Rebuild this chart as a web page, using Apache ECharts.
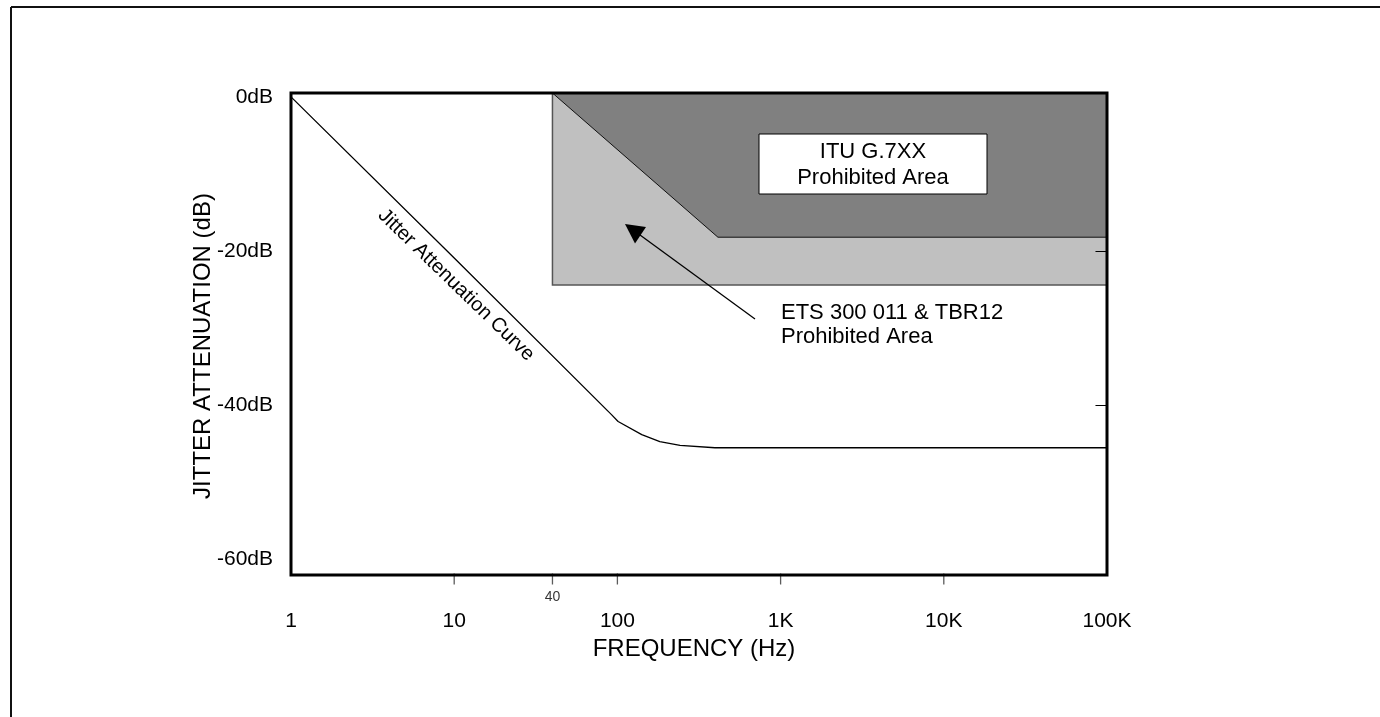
<!DOCTYPE html>
<html><head><meta charset="utf-8">
<script src="https://cdn.jsdelivr.net/npm/echarts@6/dist/echarts.min.js"></script>
<style>html,body{margin:0;padding:0;background:#fff}#c{width:1380px;height:717px}</style>
</head><body><div id="c"></div>
<script>
// ---- data ----
const X_MIN = 1, X_MAX = 100000;
const Y_MIN = -62, Y_MAX = 0.5;
const Y_LABELS = [0, -20, -40, -60];
const X_LABEL_EXP = [0, 1, 2, 3, 4, 5];
const X_LABEL_TEXT = ['1', '10', '100', '1K', '10K', '100K'];
const X_TICKS = [10, 40, 100, 1000, 10000];
const X_MINOR_LABEL = 40;
const RIGHT_TICKS = [-20, -40];
const RIGHT_TICK_FROM = 85000;
const CURVE_FREQ = [1, 10, 92, 101, 141, 182, 242, 396, 100000];
const CURVE_DB = [0, -20.9, -41.2, -42.1, -43.8, -44.7, -45.2, -45.5, -45.5];
const ETS_FREQ = [40, 100000, 100000, 40];
const ETS_DB = [Y_MAX, Y_MAX, -24.4, -24.4];
const ITU_FREQ = [40, 413, 100000, 100000];
const ITU_DB = [Y_MAX, -18.2, -18.2, Y_MAX];

const FONT = "'Liberation Sans', Arial, sans-serif";
const regions = [
  {f: ETS_FREQ, d: ETS_DB, fill: '#c0c0c0', stroke: '#555', lw: 1.5},
  {f: ITU_FREQ, d: ITU_DB, fill: '#808080', stroke: '#111', lw: 1}
];

const chart = echarts.init(document.getElementById('c'), null, {renderer: 'canvas'});
chart.setOption({
  backgroundColor: '#fff',
  animation: false,
  grid: {left: 291, right: 273, top: 93, bottom: 142, show: false},
  xAxis: {
    type: 'log', logBase: 10, min: X_MIN, max: X_MAX,
    name: 'FREQUENCY (Hz)', nameLocation: 'middle', nameGap: 61,
    nameTextStyle: {color: '#000', fontSize: 24, fontFamily: FONT, padding: [0, 10, 0, 0]},
    axisLine: {show: false}, axisTick: {show: false}, splitLine: {show: false},
    minorTick: {show: false},
    axisLabel: {
      color: '#000', fontSize: 21, fontFamily: FONT, margin: 36,
      formatter: v => {
        const e = Math.round(Math.log10(v));
        const i = X_LABEL_EXP.indexOf(e);
        return i >= 0 && Math.abs(Math.log10(v) - e) < 1e-6 ? X_LABEL_TEXT[i] : '';
      }
    }
  },
  yAxis: {
    type: 'value', min: Y_MIN, max: Y_MAX, splitNumber: 3,
    name: 'JITTER ATTENUATION (dB)', nameLocation: 'middle', nameGap: 76,
    nameMoveOverlap: false,
    nameTextStyle: {color: '#000', fontSize: 24, fontFamily: FONT, padding: [0, 24, 0, 0]},
    axisLine: {show: false}, axisTick: {show: false}, splitLine: {show: false},
    axisLabel: {
      color: '#000', fontSize: 21, fontFamily: FONT, margin: 18,
      formatter: v => {
        const r = Math.round(v);
        return Math.abs(v - r) < 1e-6 && Y_LABELS.includes(r) ? r + 'dB' : '';
      }
    }
  },
  series: [
    {
      type: 'custom', name: 'regions', z: 1, silent: true, clip: false,
      data: regions.map((r, i) => [i]),
      renderItem: (params, api) => {
        const r = regions[api.value(0)];
        const pts = r.f.map((f, k) => api.coord([f, r.d[k]]));
        return {type: 'polygon', shape: {points: pts},
          style: {fill: r.fill, stroke: r.stroke, lineWidth: r.lw}};
      }
    },
    {
      type: 'line', name: 'Jitter Attenuation Curve', z: 3, silent: true,
      showSymbol: false, symbol: 'none',
      lineStyle: {color: '#000', width: 1.3},
      data: CURVE_FREQ.map((f, i) => [f, CURVE_DB[i]]),
      markLine: {
        silent: true, symbol: ['none', 'none'], label: {show: false},
        lineStyle: {color: '#000', width: 1, type: 'solid'},
        data: RIGHT_TICKS.map(v => [{coord: [RIGHT_TICK_FROM, v]}, {coord: [X_MAX, v]}])
      }
    },
    {
      type: 'scatter', name: 'xticks', z: 4, silent: true, clip: false,
      symbol: 'rect', symbolSize: [1.3, 11], symbolOffset: [0, 4],
      itemStyle: {color: '#333'},
      data: X_TICKS.map(f => [f, Y_MIN]),
      label: {
        show: true, position: 'bottom', distance: 6, color: '#000',
        fontSize: 14, fontFamily: FONT,
        formatter: p => (p.value[0] === X_MINOR_LABEL ? String(X_MINOR_LABEL) : '')
      }
    }
  ],
  graphic: [
    {type: 'line', z: 100, shape: {x1: 11, y1: 7, x2: 1380, y2: 7}, style: {stroke: '#111', lineWidth: 2}},
    {type: 'line', z: 100, shape: {x1: 11, y1: 7, x2: 11, y2: 717}, style: {stroke: '#111', lineWidth: 2}},
    {type: 'rect', z: 100, shape: {x: 291, y: 93, width: 816, height: 482},
      style: {fill: 'none', stroke: '#000', lineWidth: 3}},
    {type: 'rect', z: 100, shape: {x: 759, y: 134, width: 228, height: 60},
      style: {fill: '#fff', stroke: '#000', lineWidth: 1}},
    {type: 'text', z: 101, x: 873, y: 165,
      style: {text: 'ITU G.7XX\nProhibited Area', fill: '#000', font: '22px ' + FONT,
        align: 'center', verticalAlign: 'middle', lineHeight: 26}},
    {type: 'text', z: 101, x: 781, y: 325,
      style: {text: 'ETS 300 011 & TBR12\nProhibited Area', fill: '#000', font: '22px ' + FONT,
        align: 'left', verticalAlign: 'middle', lineHeight: 24}},
    {type: 'line', z: 101, shape: {x1: 755, y1: 319, x2: 640, y2: 235},
      style: {stroke: '#000', lineWidth: 1.3}},
    {type: 'polygon', z: 101, shape: {points: [[625, 224], [646, 227], [635, 243.5]]},
      style: {fill: '#000'}},
    {type: 'text', z: 101, x: 456, y: 285, rotation: -0.77,
      style: {text: 'Jitter Attenuation Curve', fill: '#000', font: '20px ' + FONT,
        align: 'center', verticalAlign: 'middle'}}
  ]
});
</script></body></html>
